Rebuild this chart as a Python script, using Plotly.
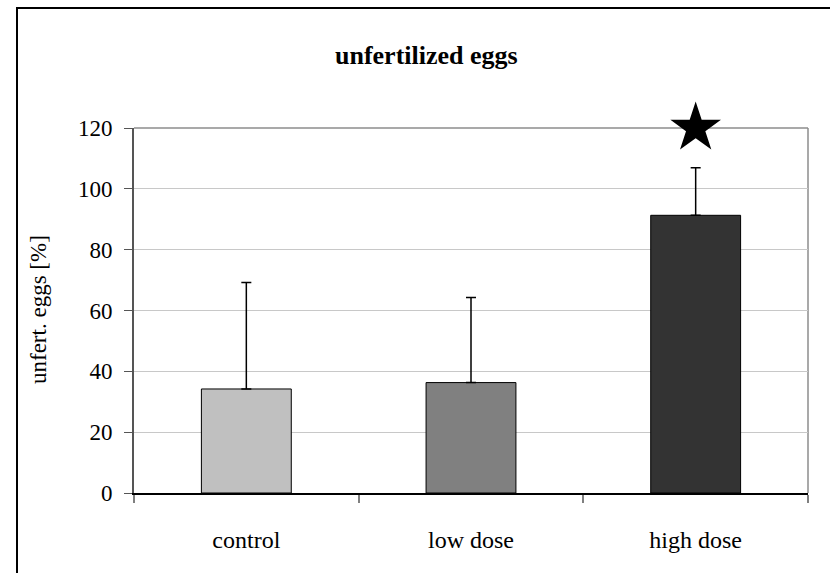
import plotly.graph_objects as go

categories = ["control", "low dose", "high dose"]
means = [34.2, 36.3, 91.3]
err_plus = [35.0, 28.0, 15.6]
bar_colors = ["#c0c0c0", "#808080", "#333333"]
star_category = ["high dose"]
star_y = [120]
y_ticks = [0, 20, 40, 60, 80, 100, 120]

W, H = 830, 573
L, R, T, B = 134, 22, 128, 80
pw, ph = W - L - R, H - T - B

def px_to_paper_x(px):
    return (px - L) / pw

def px_to_paper_y(py):
    return (H - B - py) / ph

font = "Liberation Serif, Times New Roman, serif"

fig = go.Figure()
fig.add_trace(go.Bar(
    x=categories, y=means,
    marker=dict(color=bar_colors, line=dict(color="#000000", width=1)),
    width=0.4,
    error_y=dict(type="data", symmetric=False, array=err_plus,
                 arrayminus=[0, 0, 0], color="#000000", thickness=1.5, width=5),
    showlegend=False, hoverinfo="skip",
))
fig.add_trace(go.Scatter(
    x=star_category, y=star_y, mode="markers",
    marker=dict(symbol="star", size=38, color="#000000"),
    cliponaxis=False, showlegend=False, hoverinfo="skip",
))

fig.update_layout(
    width=W, height=H,
    margin=dict(l=L, r=R, t=T, b=B, pad=0),
    paper_bgcolor="white", plot_bgcolor="white",
    font=dict(family=font, size=22, color="#000000"),
    bargap=0.6,
    xaxis=dict(
        type="category", tickson="boundaries", ticks="outside", ticklen=8,
        tickcolor="#808080", tickwidth=2, showline=True, linecolor="#000000",
        linewidth=1.5, showgrid=False, ticklabelstandoff=24,
        tickfont=dict(family=font, size=24, color="#000000"),
    ),
    yaxis=dict(
        range=[0, 120], tickvals=y_ticks, ticks="outside", ticklen=8,
        tickcolor="#555555", tickwidth=1, showline=True, linecolor="#555555",
        linewidth=2, showgrid=True, gridcolor="#c8c8c8", gridwidth=1,
        zeroline=False, ticklabelstandoff=7,
        tickfont=dict(family=font, size=23, color="#000000"),
    ),
    shapes=[
        dict(type="line", xref="paper", yref="paper", x0=0, x1=1, y0=1, y1=1,
             line=dict(color="#8c8c8c", width=1.5), layer="below"),
        dict(type="line", xref="paper", yref="paper", x0=1, x1=1, y0=0, y1=1,
             line=dict(color="#8c8c8c", width=1.5), layer="below"),
        dict(type="rect", xref="paper", yref="paper",
             x0=px_to_paper_x(17), x1=px_to_paper_x(840),
             y0=px_to_paper_y(590), y1=px_to_paper_y(8),
             line=dict(color="#000000", width=2), fillcolor="rgba(0,0,0,0)"),
    ],
    annotations=[
        dict(text="<b>unfertilized eggs</b>", xref="paper", yref="paper",
             x=px_to_paper_x(426), y=px_to_paper_y(55), showarrow=False,
             xanchor="center", yanchor="middle",
             font=dict(family=font, size=26, color="#000000")),
        dict(text="unfert. eggs [%]", xref="paper", yref="paper",
             x=px_to_paper_x(38), y=px_to_paper_y(310), showarrow=False,
             textangle=-90, xanchor="center", yanchor="middle",
             font=dict(family=font, size=23, color="#000000")),
    ],
)

fig.write_html("out.html")
